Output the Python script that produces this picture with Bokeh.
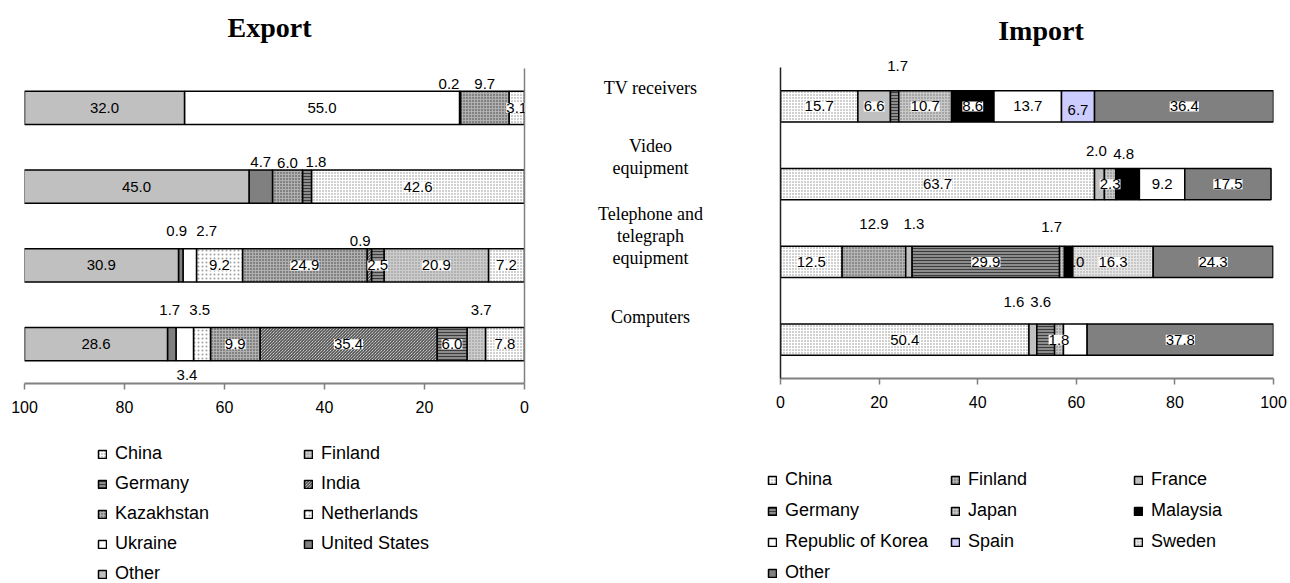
from bokeh.plotting import figure
from bokeh.models import (ColumnDataSource, Legend, LegendItem, Range1d, FixedTicker,
                          LabelSet)
from bokeh.layouts import row, column
from bokeh.embed import file_html
from bokeh.resources import INLINE
from bokeh.core.properties import value

SANS = "Liberation Sans"
SERIF = "Liberation Serif"

# ---- data -------------------------------------------------------------
categories = ["TV receivers", "Video equipment",
              "Telephone and telegraph equipment", "Computers"]
category_lines = ["TV receivers", "Video\nequipment",
                  "Telephone and\ntelegraph\nequipment", "Computers"]
tick_values = [0, 20, 40, 60, 80, 100]

export_countries = ["China", "Finland", "Germany", "India", "Kazakhstan",
                    "Netherlands", "Ukraine", "United States", "Other"]
export_tv = [3.1, 0, 0, 0, 9.7, 0.2, 55.0, 0, 32.0]
export_video = [42.6, 0, 1.8, 0, 6.0, 0, 0, 4.7, 45.0]
export_telephone = [7.2, 20.9, 2.5, 0.9, 24.9, 9.2, 2.7, 0.9, 30.9]
export_computers = [7.8, 3.7, 6.0, 35.4, 9.9, 3.4, 3.5, 1.7, 28.6]
export_shares = [export_tv, export_video, export_telephone, export_computers]

import_countries = ["China", "Finland", "France", "Germany", "Japan",
                    "Malaysia", "Republic of Korea", "Spain", "Sweden", "Other"]
import_tv = [15.7, 0, 6.6, 1.7, 10.7, 8.6, 13.7, 6.7, 0, 36.4]
import_video = [63.7, 0, 2.0, 0, 2.3, 4.8, 9.2, 0, 0, 17.5]
import_telephone = [12.5, 12.9, 1.3, 29.9, 1.0, 1.7, 0, 0, 16.3, 24.3]
import_computers = [50.4, 0, 1.6, 3.6, 1.8, 0, 4.8, 0, 0, 37.8]
import_shares = [import_tv, import_video, import_telephone, import_computers]

# ---- fills ------------------------------------------------------------
def solid(c):
    return dict(fill_color=c)

def stipple(c, dots, scale=3):
    return dict(fill_color=c, hatch_pattern=".", hatch_color=dots,
                hatch_scale=scale, hatch_weight=1)

export_styles = {
    "China": stipple("#ffffff", "#8a8a8a"),
    "Finland": stipple("#cccccc", "#8a8a8a"),
    "Germany": dict(fill_color="#8c8c8c", hatch_pattern="-", hatch_color="#3c3c3c",
                    hatch_scale=3, hatch_weight=1),
    "India": dict(fill_color="#ffffff", hatch_pattern="\\", hatch_color="#2a2a2a",
                  hatch_scale=3, hatch_weight=1),
    "Kazakhstan": stipple("#b0b0b0", "#3c3c3c"),
    "Netherlands": stipple("#ffffff", "#a0a0a0", 4),
    "Ukraine": solid("#ffffff"),
    "United States": solid("#808080"),
    "Other": solid("#c0c0c0"),
}
import_styles = {
    "China": stipple("#ffffff", "#8a8a8a"),
    "Finland": stipple("#b4b4b4", "#505050"),
    "France": solid("#c0c0c0"),
    "Germany": dict(fill_color="#8c8c8c", hatch_pattern="-", hatch_color="#3c3c3c",
                    hatch_scale=3, hatch_weight=1),
    "Japan": stipple("#c8c8c8", "#707070"),
    "Malaysia": solid("#000000"),
    "Republic of Korea": solid("#ffffff"),
    "Spain": solid("#ccccff"),
    "Sweden": stipple("#e6e6e6", "#9a9a9a"),
    "Other": solid("#808080"),
}

# pixel nudges for labels that sit beside their segment
export_nudge = {
    (0, "Netherlands"): (-11, -24), (0, "Kazakhstan"): (0, -24),
    (1, "United States"): (0, -25), (1, "Kazakhstan"): (0, -24), (1, "Germany"): (9, -25),
    (2, "United States"): (-4, -34), (2, "Ukraine"): (17, -34), (2, "India"): (-9, -24),
    (3, "United States"): (-2, -34), (3, "Ukraine"): (15, -34),
    (3, "Netherlands"): (-15, 31), (3, "Finland"): (5, -34),
}
import_nudge = {
    (0, "Germany"): (3, -40), (0, "Spain"): (0, 4),
    (1, "France"): (-3, -33), (1, "Malaysia"): (-4, -30),
    (2, "Finland"): (0, -38), (2, "France"): (5, -38),
    (2, "Malaysia"): (-17, -35), (2, "Japan"): (12, 0),
    (3, "France"): (-19, -38), (3, "Germany"): (-5, -38),
}
export_plain = {"Other"}
import_plain = {"Spain", (2, "Japan")}
import_unlabelled = {(3, "Republic of Korea")}

# vertical nudges of the category names in the centre column
category_nudge = [-18, -27, -26, -23]

BAR_LINE = dict(line_color="black", line_width=1.5)

# layout in pixels: top of the bar area, bottom axis, pitch per category
EXP_TOP, EXP_AXIS = 68, 383
IMP_TOP, IMP_AXIS = 67, 378
CHART_H = 430
KEY_H = 583 - CHART_H


def cat_range(top_px, axis_px, n):
    per = (axis_px - top_px) / n
    return Range1d(n, -top_px / per)


def build_panel(p, countries, shares, styles, nudge, plain, unlabelled, bar_h):
    lab = dict(x=[], y=[], text=[], dx=[], dy=[], bg=[])
    swatches = {}
    for j, c in enumerate(countries):
        ys, lefts, rights = [], [], []
        for i, vals in enumerate(shares):
            v = vals[j]
            if v <= 0:
                continue
            start = sum(vals[:j])
            ys.append(i + 0.5)
            lefts.append(start)
            rights.append(start + v)
            if (i, c) in unlabelled:
                continue
            dx, dy = nudge.get((i, c), (0, 0))
            lab["x"].append(start + v / 2)
            lab["y"].append(i + 0.5)
            lab["text"].append(f"{v:.1f}")
            lab["dx"].append(dx)
            lab["dy"].append(-dy)
            lab["bg"].append(0.0 if (c in plain or (i, c) in plain) else 1.0)
        src = ColumnDataSource(dict(y=ys, left=lefts, right=rights))
        p.hbar(y="y", left="left", right="right", height=bar_h, source=src,
               **BAR_LINE, **styles[c])
    labels = LabelSet(x="x", y="y", text="text", x_offset="dx", y_offset="dy",
                      source=ColumnDataSource(lab), text_align="center",
                      text_baseline="middle", text_font=value(SANS),
                      text_font_size="15px", text_color="black",
                      background_fill_color="white", background_fill_alpha="bg")
    p.add_layout(labels)


def style_axes(p, vline_color, n):
    p.xaxis.ticker = FixedTicker(ticks=tick_values)
    p.xaxis.major_tick_in = 0
    p.xaxis.major_tick_out = 6
    p.xaxis.minor_tick_line_color = None
    p.xaxis.axis_line_color = "#808080"
    p.xaxis.axis_line_width = 2
    p.xaxis.major_tick_line_color = "#808080"
    p.xaxis.major_tick_line_width = 1.5
    p.xaxis.major_label_text_font = SANS
    p.xaxis.major_label_text_font_size = "16px"
    p.xaxis.major_label_text_color = "black"
    p.xaxis.major_label_standoff = 11
    p.yaxis.ticker = FixedTicker(ticks=[])
    p.yaxis.bounds = (0, n)
    p.yaxis.major_label_text_font_size = "0px"
    p.yaxis.minor_tick_line_color = None
    p.yaxis.major_tick_line_color = None
    p.yaxis.axis_line_color = vline_color
    p.yaxis.axis_line_width = 1.5
    p.grid.visible = False
    p.outline_line_color = None


def add_title(p, text, dx, dy):
    mid_x = (tick_values[0] + tick_values[-1]) / 2
    p.text(x=[mid_x], y=[p.y_range.end], text=[text], x_offset=dx, y_offset=dy,
           text_align="center", text_baseline="middle", text_font=value(SERIF),
           text_font_size="28px", text_font_style="bold", text_color="black")


def add_key(p, countries, styles, ncols, col_w, loc, row_gap):
    items = []
    for c in countries:
        # swatch-only renderer: never drawn in the panel itself
        r = p.hbar(y=[0.5], left=[0], right=[1], height=0.1, visible=False,
                   **BAR_LINE, **styles[c])
        items.append(LegendItem(label=c, renderers=[r]))
    lg = Legend(items=items, orientation="horizontal", ncols=ncols,
                location=loc, margin=0, padding=0, spacing=row_gap,
                glyph_width=10, glyph_height=10, label_height=20,
                label_standoff=8, label_width=col_w - 18 - row_gap,
                label_text_font=SANS, label_text_font_size="18px",
                label_text_color="black",
                border_line_color=None, background_fill_alpha=0)
    p.add_layout(lg)


n_cat = len(categories)

# ---- export -----------------------------------------------------------
exp = figure(width=560, height=CHART_H, title=None, x_range=Range1d(100, 0),
             y_range=cat_range(EXP_TOP, EXP_AXIS, n_cat), y_axis_location="right",
             output_backend="svg", toolbar_location=None,
             min_border_left=24, min_border_right=36, min_border_top=0,
             min_border_bottom=CHART_H - EXP_AXIS)
build_panel(exp, export_countries, export_shares, export_styles,
            export_nudge, export_plain, set(), 0.42)
style_axes(exp, "#808080", n_cat)
add_title(exp, "Export", -5, 27)

# ---- category names ---------------------------------------------------
mid = figure(width=180, height=CHART_H, title=None, x_range=Range1d(0, 1),
             y_range=cat_range(IMP_TOP, IMP_AXIS, n_cat),
             x_axis_type=None, y_axis_type=None, output_backend="svg",
             toolbar_location=None, min_border_left=0, min_border_right=0,
             min_border_top=0, min_border_bottom=CHART_H - IMP_AXIS)
mid.outline_line_color = None
mid.grid.visible = False
mid.text(x=[0.5] * n_cat, y=[i + 0.5 for i in range(n_cat)],
         text=category_lines, y_offset=category_nudge, text_align="center",
         text_baseline="middle", text_font=value(SERIF), text_font_size="18px",
         text_line_height=1.1)

# ---- import -----------------------------------------------------------
imp = figure(width=550, height=CHART_H, title=None, x_range=Range1d(0, 100),
             y_range=cat_range(IMP_TOP, IMP_AXIS, n_cat),
             output_backend="svg", toolbar_location=None,
             min_border_left=40, min_border_right=17, min_border_top=0,
             min_border_bottom=CHART_H - IMP_AXIS)
build_panel(imp, import_countries, import_shares, import_styles,
            import_nudge, import_plain, import_unlabelled, 0.40)
style_axes(imp, "#202020", n_cat)
add_title(imp, "Import", 14, 30)

# ---- keys -------------------------------------------------------------
key = figure(width=1290, height=KEY_H, title=None, x_range=Range1d(0, 1),
             y_range=Range1d(0, 1), x_axis_type=None, y_axis_type=None,
             output_backend="svg", toolbar_location=None, min_border_left=0,
             min_border_right=0, min_border_top=0, min_border_bottom=0)
key.outline_line_color = None
key.grid.visible = False
add_key(key, export_countries, export_styles, 2, 206, (97, -1), 9)
add_key(key, import_countries, import_styles, 3, 183, (767, 0), 10)

layout = column(row(column(exp), column(mid), column(imp)), key)
open("out.html", "w").write(file_html(layout, INLINE))
